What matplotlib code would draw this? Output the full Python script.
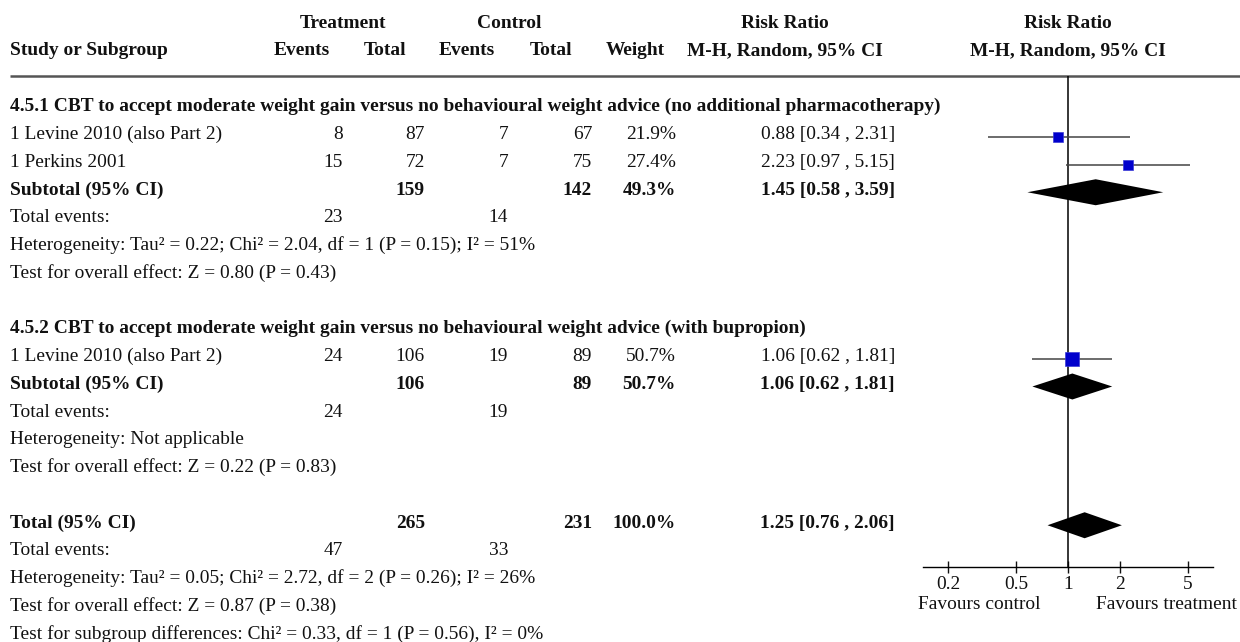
#!/usr/bin/env python3
"""Forest plot: CBT to accept moderate weight gain, risk ratio (M-H, random)."""

import matplotlib

matplotlib.use("Agg")

import matplotlib.pyplot as plt
import numpy as np
from matplotlib.ticker import FixedLocator, NullLocator

plt.rcParams["font.family"] = ["Liberation Serif", "DejaVu Serif"]

# ---- data -----------------------------------------------------------------
study_names = ["1 Levine 2010 (also Part 2)", "1 Perkins 2001", "1 Levine 2010 (also Part 2)"]
study_rows = [1, 2, 9]
trt_events = [8, 15, 24]
trt_total = [87, 72, 106]
ctl_events = [7, 7, 19]
ctl_total = [67, 75, 89]
weights = [21.9, 27.4, 50.7]
rr = [0.88, 2.23, 1.06]
rr_lo = [0.34, 0.97, 0.62]
rr_hi = [2.31, 5.15, 1.81]

pooled_names = ["Subtotal (95% CI)", "Subtotal (95% CI)", "Total (95% CI)"]
pooled_rows = [3, 10, 15]
pooled_trt_total = [159, 106, 265]
pooled_ctl_total = [142, 89, 231]
pooled_weight = [49.3, 50.7, 100.0]
pooled_rr = [1.45, 1.06, 1.25]
pooled_lo = [0.58, 0.62, 0.76]
pooled_hi = [3.59, 1.81, 2.06]

event_rows = [4, 11, 16]
event_trt = [23, 24, 47]
event_ctl = [14, 19, 33]

group_titles = [
    "4.5.1 CBT to accept moderate weight gain versus no behavioural weight advice (no additional pharmacotherapy)",
    "4.5.2 CBT to accept moderate weight gain versus no behavioural weight advice (with bupropion)",
]
group_rows = [0, 8]

note_rows = [5, 6, 12, 13, 17, 18, 19]
notes = [
    "Heterogeneity: Tau\u00b2 = 0.22; Chi\u00b2 = 2.04, df = 1 (P = 0.15); I\u00b2 = 51%",
    "Test for overall effect: Z = 0.80 (P = 0.43)",
    "Heterogeneity: Not applicable",
    "Test for overall effect: Z = 0.22 (P = 0.83)",
    "Heterogeneity: Tau\u00b2 = 0.05; Chi\u00b2 = 2.72, df = 2 (P = 0.26); I\u00b2 = 26%",
    "Test for overall effect: Z = 0.87 (P = 0.38)",
    "Test for subgroup differences: Chi\u00b2 = 0.33, df = 1 (P = 0.56), I\u00b2 = 0%",
]

axis_ticks = [0.2, 0.5, 1, 2, 5]
axis_tick_labels = ["0.2", "0.5", "1", "2", "5"]
axis_limits = (1 / 7, 7)

# ---- layout (pixels) ------------------------------------------------------
W, H = 1240, 642
FS = 13.95
ROW0, ROW_STEP = 105.0, 27.75
BASE = 6.4          # cap centre -> baseline
MARK_OFF = 4.0      # marks sit a little below the text centre
X_STUDY = 10
X_TE, X_TT, X_CE, X_CT, X_W, X_RR = 343, 425, 508, 592, 676, 895
X_FOREST_L, X_FOREST_R = 923, 1213
Y_RULE, Y_AXIS = 76, 567
TEXT = "#111111"


def row_y(i):
    return ROW0 + ROW_STEP * i


fig = plt.figure(figsize=(W / 100, H / 100), dpi=100)
ax = fig.add_axes([0, 0, 1, 1])
ax.set_xlim(0, W)
ax.set_ylim(H, 0)
ax.axis("off")


def put(x, row, s, ha="left", bold=False):
    ax.text(x, row_y(row) + BASE, s, ha=ha, va="baseline", fontsize=FS,
            fontweight="bold" if bold else "normal", color=TEXT)


# headers
hdr = dict(va="baseline", fontsize=FS, fontweight="bold", color=TEXT)
ax.text(343, 22 + BASE, "Treatment", ha="center", **hdr)
ax.text(509, 22 + BASE, "Control", ha="center", **hdr)
ax.text(785, 22 + BASE, "Risk Ratio", ha="center", **hdr)
ax.text(1068, 22 + BASE, "Risk Ratio", ha="center", **hdr)
ax.text(X_STUDY, 49 + BASE, "Study or Subgroup", ha="left", **hdr)
ax.text(302, 49 + BASE, "Events", ha="center", **hdr)
ax.text(385, 49 + BASE, "Total", ha="center", **hdr)
ax.text(467, 49 + BASE, "Events", ha="center", **hdr)
ax.text(551, 49 + BASE, "Total", ha="center", **hdr)
ax.text(635, 49 + BASE, "Weight", ha="center", **hdr)
ax.text(785, 49 + BASE, "M-H, Random, 95% CI", ha="center", **hdr)
ax.text(1068, 49 + BASE, "M-H, Random, 95% CI", ha="center", **hdr)
ax.hlines(Y_RULE, 10, W, color="#555555", linewidth=1.8)

for r, title in zip(group_rows, group_titles):
    put(X_STUDY, r, title, bold=True)

for i, r in enumerate(study_rows):
    put(X_STUDY, r, study_names[i])
    put(X_TE, r, f"{trt_events[i]}", ha="right")
    put(X_TT, r, f"{trt_total[i]}", ha="right")
    put(X_CE, r, f"{ctl_events[i]}", ha="right")
    put(X_CT, r, f"{ctl_total[i]}", ha="right")
    put(X_W, r, f"{weights[i]:.1f}%", ha="right")
    put(X_RR, r, f"{rr[i]:.2f} [{rr_lo[i]:.2f} , {rr_hi[i]:.2f}]", ha="right")

for i, r in enumerate(pooled_rows):
    put(X_STUDY, r, pooled_names[i], bold=True)
    put(X_TT, r, f"{pooled_trt_total[i]}", ha="right", bold=True)
    put(X_CT, r, f"{pooled_ctl_total[i]}", ha="right", bold=True)
    put(X_W, r, f"{pooled_weight[i]:.1f}%", ha="right", bold=True)
    put(X_RR, r, f"{pooled_rr[i]:.2f} [{pooled_lo[i]:.2f} , {pooled_hi[i]:.2f}]",
        ha="right", bold=True)

for i, r in enumerate(event_rows):
    put(X_STUDY, r, "Total events:")
    put(X_TE, r, f"{event_trt[i]}", ha="right")
    put(X_CE, r, f"{event_ctl[i]}", ha="right")

for r, s in zip(note_rows, notes):
    put(X_STUDY, r, s)

# ---- forest panel ---------------------------------------------------------
fx = fig.add_axes([X_FOREST_L / W, 0, (X_FOREST_R - X_FOREST_L) / W, 1])
fx.set_xscale("log")
fx.set_xlim(*axis_limits)
fx.set_ylim(H, 0)
fx.patch.set_visible(False)
for side in ("left", "right", "top"):
    fx.spines[side].set_visible(False)
fx.spines["bottom"].set_position(("data", Y_AXIS))
fx.spines["bottom"].set_linewidth(1.0)
fx.set_yticks([])
fx.xaxis.set_major_locator(FixedLocator(axis_ticks))
fx.xaxis.set_minor_locator(NullLocator())
fx.set_xticklabels(axis_tick_labels)
fx.tick_params(axis="x", direction="inout", length=8.6, width=1.0, pad=2.2,
               labelsize=FS, colors=TEXT)

fx.vlines(1, Y_RULE, Y_AXIS, color="black", linewidth=1.1)

ys = np.array([row_y(r) + MARK_OFF for r in study_rows])
fx.hlines(ys, rr_lo, rr_hi, color="#444444", linewidth=1.1)
for x, y, w in zip(rr, ys, weights):
    side_px = 2.05 * np.sqrt(w)
    fx.plot([x], [y], marker="s", markersize=side_px * 0.72, color="#0000cc",
            markeredgecolor="#3b3bd6", markeredgewidth=0.5, linestyle="none")

for est, lo, hi, r in zip(pooled_rr, pooled_lo, pooled_hi, pooled_rows):
    cy = row_y(r) + MARK_OFF
    fx.fill([lo, est, hi, est], [cy, cy - 13, cy, cy + 13], color="black", linewidth=0)

ax.text(979, 603 + BASE, "Favours control", ha="center", va="baseline",
        fontsize=FS, color=TEXT)
ax.text(1166, 603 + BASE, "Favours treatment", ha="center", va="baseline",
        fontsize=FS, color=TEXT)

fig.savefig("out.png", dpi=100)
